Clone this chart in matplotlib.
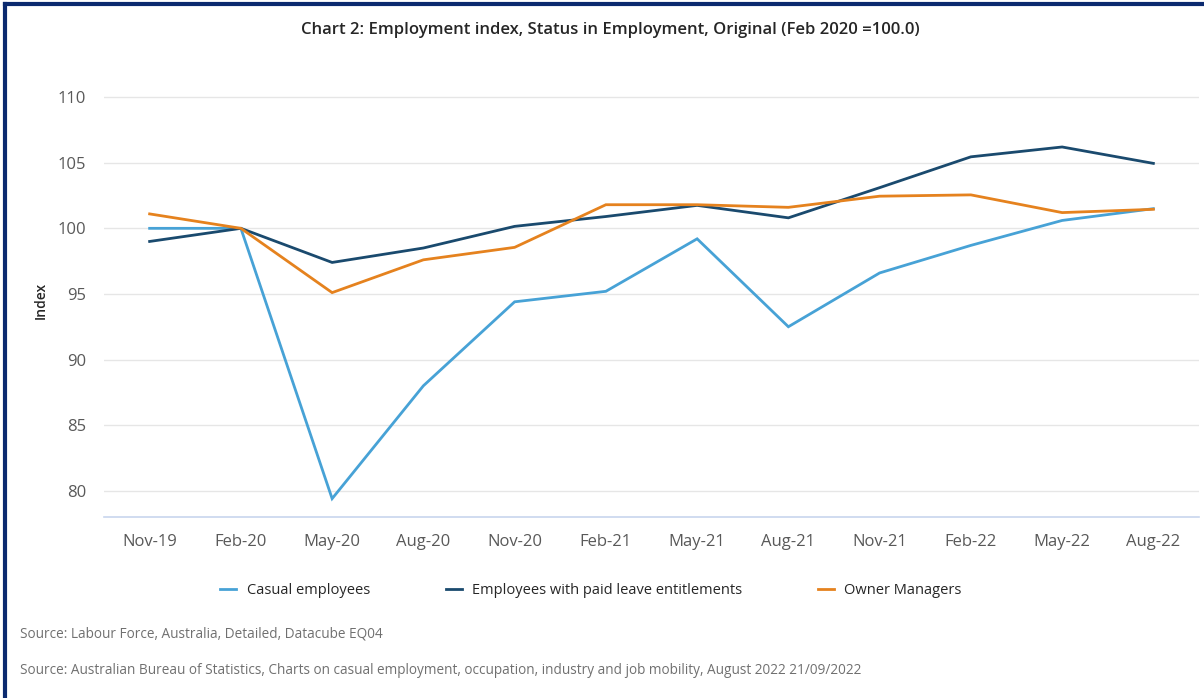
import matplotlib.pyplot as plt
from matplotlib.lines import Line2D

plt.rcParams['font.family'] = ['Open Sans', 'DejaVu Sans']

# quarterly index, Feb 2020 = 100
quarters = ['Nov-19', 'Feb-20', 'May-20', 'Aug-20', 'Nov-20', 'Feb-21',
            'May-21', 'Aug-21', 'Nov-21', 'Feb-22', 'May-22', 'Aug-22']
casual = [100.0, 100.0, 79.4, 88.0, 94.4, 95.2, 99.2, 92.5, 96.6, 98.7, 100.6, 101.5]
paid_leave = [99.0, 100.0, 97.4, 98.5, 100.15, 100.9, 101.75, 100.8, 103.1, 105.45, 106.2, 104.95]
owner_mgr = [101.1, 100.0, 95.1, 97.6, 98.55, 101.8, 101.8, 101.6, 102.45, 102.55, 101.2, 101.45]

series = [
    ('Casual employees', casual, '#47a2d6'),
    ('Employees with paid leave entitlements', paid_leave, '#1a4a6e'),
    ('Owner Managers', owner_mgr, '#e5821e'),
]

fig = plt.figure(figsize=(12.04, 6.98), dpi=100)
ax = fig.add_axes([104 / 1204, 1 - 517 / 698, 1095 / 1204, (517 - 84) / 698])

x = list(range(len(quarters)))
for name, vals, col in series:
    ax.plot(x, vals, color=col, lw=2.0, label=name, solid_joinstyle='miter')

ax.set_xlim(-0.5, len(quarters) - 0.5)
ax.set_ylim(78, 111)
ax.set_yticks(range(80, 111, 5))
ax.set_xticks(x)
ax.set_xticklabels(quarters)
ax.grid(axis='y', color='#e6e6e6', lw=1)
ax.set_axisbelow(True)
for s in ['top', 'right', 'left']:
    ax.spines[s].set_visible(False)
ax.spines['bottom'].set_color('#c8d6ee')
ax.spines['bottom'].set_linewidth(1.2)
ax.tick_params(axis='both', length=0, labelsize=12, colors='#595959')
ax.tick_params(axis='x', pad=12)
ax.tick_params(axis='y', pad=13)
ax.set_ylabel('Index', fontsize=10, fontweight='semibold', color='#262626', labelpad=7)

fig.text(610 / 1204, 1 - 30 / 698, 'Chart 2: Employment index, Status in Employment, Original (Feb 2020 =100.0)',
         ha='center', va='center', fontsize=12, fontweight='semibold', color='#262626')

handles = [Line2D([], [], color=c, lw=2) for _, _, c in series]
fig.legend(handles, [n for n, _, _ in series], loc='center',
           bbox_to_anchor=(591 / 1204, 1 - 591 / 698), ncol=3, frameon=False,
           fontsize=10.5, handlelength=1.1, handletextpad=0.7, columnspacing=5.2,
           labelcolor='#262626')

fig.text(20 / 1204, 1 - 634 / 698, 'Source: Labour Force, Australia, Detailed, Datacube EQ04',
         ha='left', va='center', fontsize=9.8, color='#707070')
fig.text(20 / 1204, 1 - 670 / 698,
         'Source: Australian Bureau of Statistics, Charts on casual employment, occupation, industry and job mobility, August 2022 21/09/2022',
         ha='left', va='center', fontsize=9.8, color='#707070')

# navy frame along the left and top edges
fig.add_artist(Line2D([5 / 1204, 5 / 1204], [0, 1 - 4 / 698], color='#0b2a6f', lw=3))
fig.add_artist(Line2D([5 / 1204, 1], [1 - 4 / 698, 1 - 4 / 698], color='#0b2a6f', lw=3))

fig.savefig('out.png', dpi=100)
